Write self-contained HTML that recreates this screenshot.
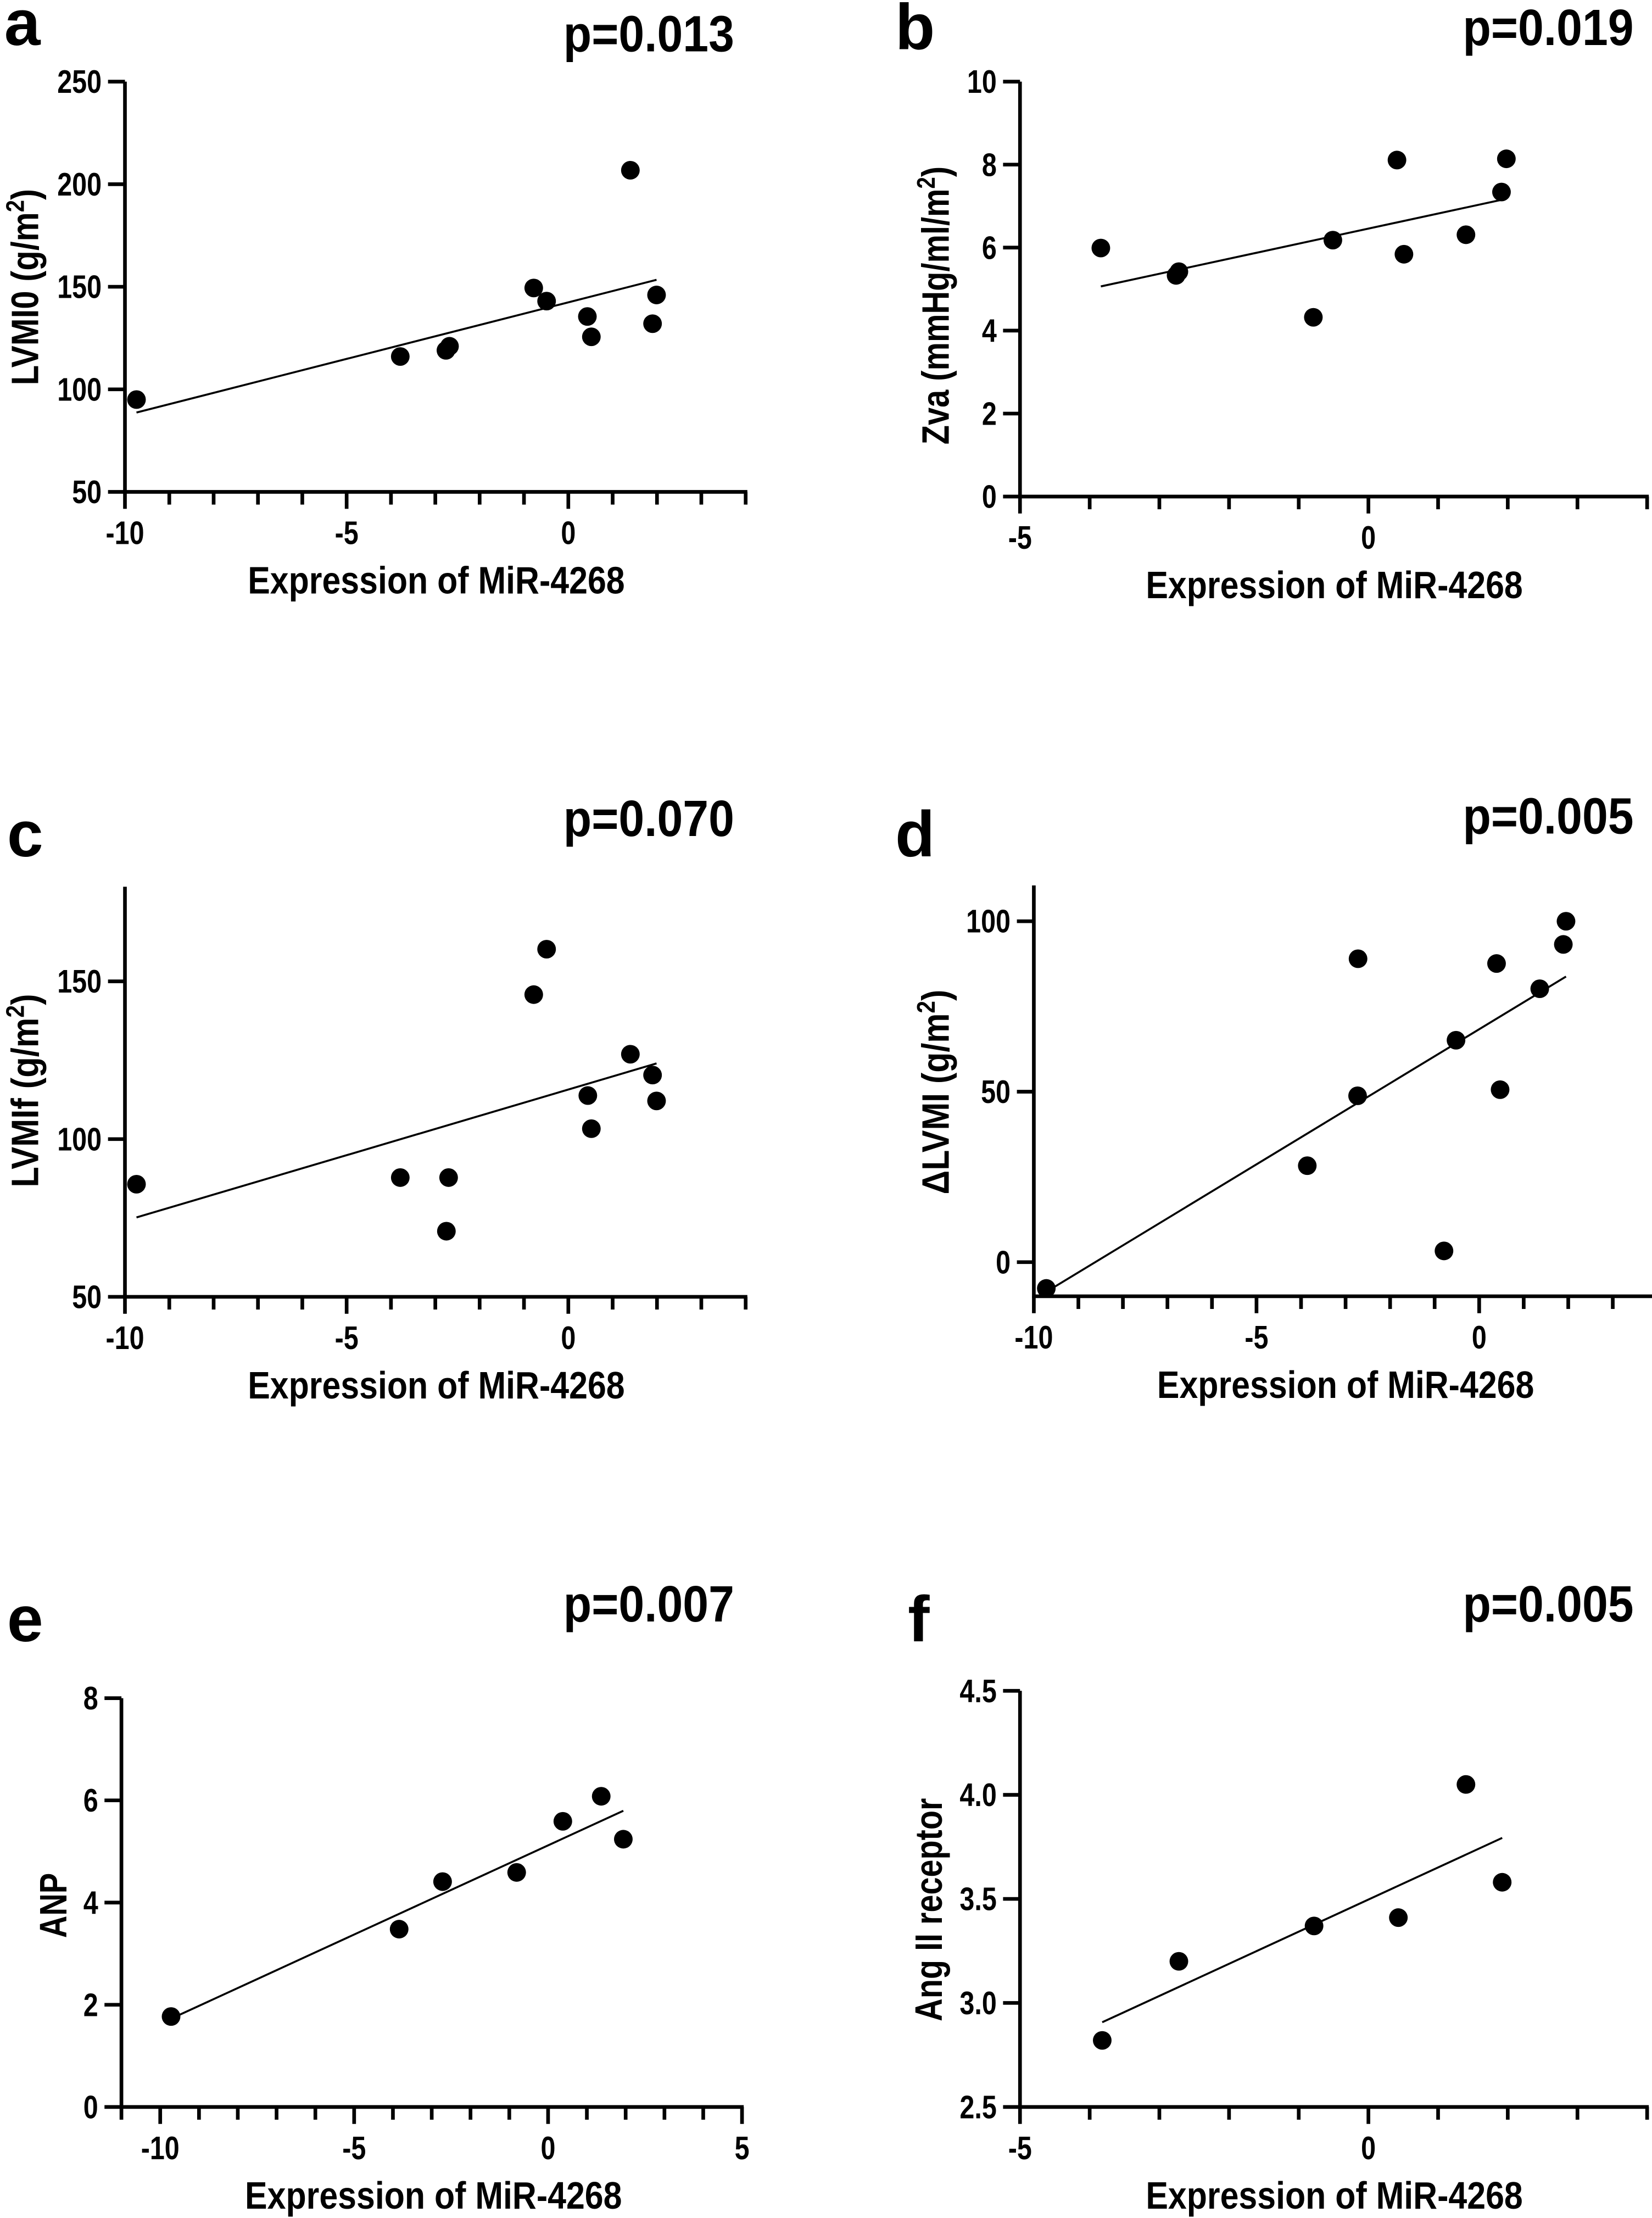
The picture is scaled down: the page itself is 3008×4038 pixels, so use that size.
<!DOCTYPE html>
<html><head><meta charset="utf-8"><style>
html,body{margin:0;padding:0;background:#fff}
svg{display:block}
text{font-family:"Liberation Sans",Arial,sans-serif;font-weight:bold;fill:#000}
</style></head><body>
<svg id="fig" width="3008" height="4038" viewBox="0 0 1170 1570" xmlns="http://www.w3.org/2000/svg"></svg>
<script>
// ---- data (x = expression of MiR-4268) ----
const aX = [-9.74,-3.79,-2.76,-2.68,-0.78,-0.49,0.43,0.52,1.40,1.90,1.99];
const aY = [95,116,119,121,149.4,143,135.5,125.6,206.8,132,146];
const bX = [-3.84,-2.76,-2.72,-0.79,-0.51,0.41,0.51,1.40,1.91,1.98];
const bY = [5.99,5.33,5.42,4.32,6.18,8.11,5.84,6.31,7.34,8.14];
const cX = [-9.74,-3.79,-2.70,-2.75,-0.78,-0.49,0.44,0.52,1.40,1.90,1.99];
const cY = [85.7,87.8,87.8,70.8,145.8,160.2,113.8,103.3,126.9,120.3,112.1];
const dX = [-9.72,-3.86,-2.73,-2.72,-0.79,-0.52,0.39,0.47,1.36,1.89,1.95];
const dY = [-7.7,28.3,48.8,89.0,3.3,65.1,87.6,50.6,80.2,93.2,100];
const eX = [-9.72,-3.84,-2.72,-0.81,0.38,1.37,1.94];
const eY = [1.77,3.48,4.41,4.59,5.59,6.08,5.24];
const fX = [-3.82,-2.72,-0.78,0.43,1.40,1.92];
const fY = [2.82,3.20,3.37,3.41,4.05,3.58];
const aYTicks = [50,100,150,200,250];
const bYTicks = [0,2,4,6,8,10];
const cYTicks = [50,100,150];
const dYTicks = [0,50,100];
const eYTicks = [0,2,4,6,8];
const fYTicks = [2.5,3.0,3.5,4.0,4.5];
const fYTickLabels = ["2.5","3.0","3.5","4.0","4.5"];
const pValues = ["p=0.013","p=0.019","p=0.070","p=0.005","p=0.007","p=0.005"];

const NS="http://www.w3.org/2000/svg";
const svg=document.getElementById('fig');
function mk(tag,attrs,parent){const e=document.createElementNS(NS,tag);for(const k in attrs)e.setAttribute(k,attrs[k]);(parent||svg).appendChild(e);return e;}

const panels=[
 {id:'a',X:aX,Y:aY,yt:aYTicks,ytl:null,x0:88.5,xmin:-10,xmax:4,ux:31.4,yb:348,yTop:57.5,ymin:50,ymax:250,xlabels:[-10,-5,0],
  letter:[3,31.6],p:[520,36],title:309,ytitle:{x:27,y:203,len:139,t:'LVMI0 (g/m',sup:'2',end:')'}},
 {id:'b',X:bX,Y:bY,yt:bYTicks,ytl:null,x0:722.4,xmin:-5,xmax:4,ux:49.35,yb:351.3,yTop:57.5,ymin:0,ymax:10,xlabels:[-5,0],
  letter:[634,34.5],p:[1157,31.6],title:945,ytitle:{x:672,y:216,len:197,t:'Zva (mmHg/ml/m',sup:'2',end:')'}},
 {id:'c',X:cX,Y:cY,yt:cYTicks,ytl:null,x0:88.5,xmin:-10,xmax:4,ux:31.4,yb:918,yTop:627.6,ymin:50,ymax:180,xlabels:[-10,-5,0],
  letter:[5,606],p:[520,591.6],title:309,ytitle:{x:27,y:772,len:137,t:'LVMIf (g/m',sup:'2',end:')'}},
 {id:'d',X:dX,Y:dY,yt:dYTicks,ytl:null,x0:732.2,xmin:-10,xmax:4,ux:31.54,yb:917.6,yTop:626.7,ymin:-10,ymax:110.5,xlabels:[-10,-5,0],
  letter:[634,606],p:[1157,590],title:953,ytitle:{x:672,y:773,len:145,t:'\u0394LVMI (g/m',sup:'2',end:')'}},
 {id:'e',X:eX,Y:eY,yt:eYTicks,ytl:null,x0:86,xmin:-11,xmax:5,ux:27.47,yb:1491.7,yTop:1202.2,ymin:0,ymax:8,xlabels:[-10,-5,0,5],
  letter:[5,1162],p:[520,1148],title:307,ytitle:{x:47,y:1349,len:46,t:'ANP',sup:'',end:''}},
 {id:'f',X:fX,Y:fY,yt:fYTicks,ytl:fYTickLabels,x0:722.4,xmin:-5,xmax:4,ux:49.35,yb:1491.7,yTop:1197,ymin:2.5,ymax:4.5,xlabels:[-5,0],
  letter:[643,1162],p:[1157,1148],title:945,ytitle:{x:667,y:1352,len:158,t:'Ang II receptor',sup:'',end:''}}
];

function tlen(s,fs){let w=0;for(const ch of s){w+=(ch==='-')?0.333:(ch==='.')?0.278:0.556;}return w*fs*0.82;}

panels.forEach((P,pi)=>{
  const g=mk('g',{});
  
  
  const sx=v=>P.x0+(v-P.xmin)*P.ux;
  const sy=v=>P.yb-(v-P.ymin)/(P.ymax-P.ymin)*(P.yb-P.yTop);
  const xEnd=sx(P.xmax);
  const ya=mk('line',{x1:P.x0,y1:P.yTop,x2:P.x0,y2:P.yb+1.2,stroke:'#000','stroke-width':2.6},g);
  
  
  const xa=mk('line',{x1:P.x0-1.2,y1:P.yb,x2:xEnd+1.2,y2:P.yb,stroke:'#000','stroke-width':2.6},g);
  
  
  for(let v=P.xmin; v<=P.xmax+1e-9; v++){
    const major=(v%5===0);
    mk('line',{x1:sx(v),y1:P.yb,x2:sx(v),y2:P.yb+(major?12:9),stroke:'#000','stroke-width':2.6},g);
  }
  P.xlabels.forEach(v=>{
    const s=String(v);
    const t=mk('text',{x:sx(v),y:P.yb+37,'text-anchor':'middle','font-size':23,textLength:tlen(s,23),lengthAdjust:'spacingAndGlyphs'},g);
    t.textContent=s;
    
    
  });
  P.yt.forEach((v,i)=>{
    mk('line',{x1:P.x0-12,y1:sy(v),x2:P.x0,y2:sy(v),stroke:'#000','stroke-width':2.6},g);
    const s=P.ytl?P.ytl[i]:String(v);
    const t=mk('text',{x:P.x0-16.5,y:sy(v)+8,'text-anchor':'end','font-size':23,textLength:tlen(s,23),lengthAdjust:'spacingAndGlyphs'},g);
    t.textContent=s;
    
    
  });
  const n=P.X.length;let mx=0,my=0;
  for(let i=0;i<n;i++){mx+=P.X[i];my+=P.Y[i];}mx/=n;my/=n;
  let sxy=0,sxx=0;for(let i=0;i<n;i++){sxy+=(P.X[i]-mx)*(P.Y[i]-my);sxx+=(P.X[i]-mx)*(P.X[i]-mx);}
  const b=sxy/sxx,a0=my-b*mx;
  const lx1=Math.min(...P.X),lx2=Math.max(...P.X);
  const fit=mk('line',{x1:sx(lx1),y1:sy(a0+b*lx1),x2:sx(lx2),y2:sy(a0+b*lx2),stroke:'#000','stroke-width':1.4},g);
  
  
  for(let i=0;i<n;i++){
    const c=mk('circle',{cx:sx(P.X[i]),cy:sy(P.Y[i]),r:6.6,fill:'#000'},g);
    
    
  }
  const L=mk('text',{x:P.letter[0],y:P.letter[1],'font-size':46},g);
  L.textContent=P.id;
  
  
  const pt=mk('text',{x:P.p[0],y:P.p[1],'text-anchor':'end','font-size':36,textLength:121,lengthAdjust:'spacingAndGlyphs'},g);
  pt.textContent=pValues[pi];
  
  
  const xt=mk('text',{x:P.title,y:P.yb+72,'text-anchor':'middle','font-size':27,textLength:267,lengthAdjust:'spacingAndGlyphs'},g);
  xt.textContent='Expression of MiR-4268';
  
  
  const Y=P.ytitle;
  const yt=mk('text',{x:0,y:0,'text-anchor':'middle','font-size':27,transform:`translate(${Y.x},${Y.y}) rotate(-90)`,textLength:Y.len,lengthAdjust:'spacingAndGlyphs'},g);
  
  
  if(Y.sup){
    const t1=mk('tspan',{},yt);t1.textContent=Y.t;
    const t2=mk('tspan',{dy:-10,'font-size':18},yt);t2.textContent=Y.sup;
    const t3=mk('tspan',{dy:10},yt);t3.textContent=Y.end;
  } else yt.textContent=Y.t;
});
</script>
</body></html>
